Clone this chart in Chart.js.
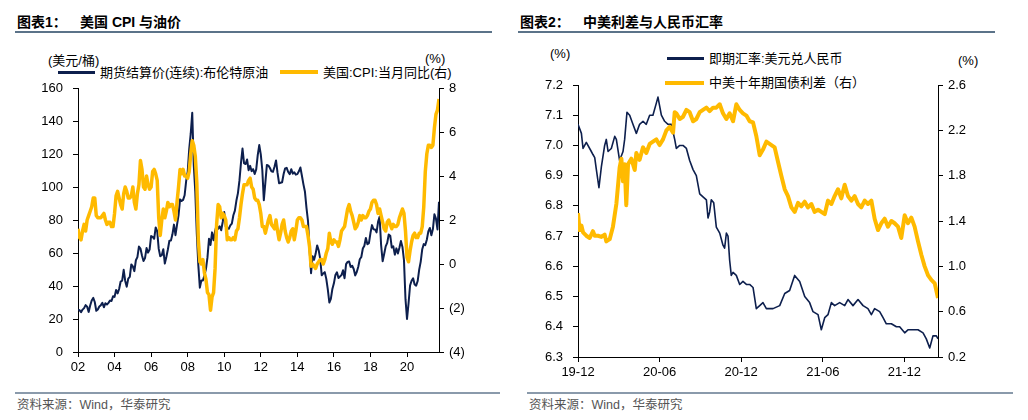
<!DOCTYPE html>
<html><head><meta charset="utf-8">
<script src="https://cdn.jsdelivr.net/npm/chart.js@4.4.1/dist/chart.umd.min.js"></script>
<style>
html,body{margin:0;padding:0;background:#fff;}
body{width:1028px;height:420px;position:relative;overflow:hidden;font-family:"Liberation Sans","Noto Sans CJK SC",sans-serif;}
.abs{position:absolute;white-space:nowrap;line-height:1;}
.title{font-family:"Liberation Sans","Noto Sans CJK SC";font-weight:bold;font-size:14px;color:#000;}
.rule{position:absolute;height:2px;background:#5b7389;}
.src{font-family:"Liberation Sans","Noto Sans CJK SC";font-size:12.5px;color:#555;}
.lg{font-size:13px;color:#000;}
.sw{position:absolute;}
canvas{position:absolute;}
</style></head>
<body>
<div class="abs title" style="left:17px;top:15px;">图表1：</div>
<div class="abs title" style="left:80px;top:15px;">美国 CPI 与油价</div>
<div class="rule" style="left:15px;top:31px;width:477px;"></div>
<div class="abs title" style="left:520px;top:15px;">图表2：</div>
<div class="abs title" style="left:583px;top:15px;">中美利差与人民币汇率</div>
<div class="rule" style="left:518px;top:31px;width:477px;"></div>

<div class="abs lg" style="left:48px;top:54px;">(美元/桶)</div>
<div class="abs lg" style="left:425px;top:52px;">(%)</div>
<div class="sw" style="left:58px;top:71px;width:37px;height:3px;background:#0d1f4d;"></div>
<div class="abs lg" style="left:100px;top:66px;">期货结算价(连续):布伦特原油</div>
<div class="sw" style="left:280px;top:70px;width:38px;height:4px;background:#ffba00;"></div>
<div class="abs lg" style="left:323px;top:66px;">美国:CPI:当月同比(右)</div>

<div class="abs lg" style="left:550px;top:47px;">(%)</div>
<div class="abs lg" style="left:958px;top:54px;">(%)</div>
<div class="sw" style="left:667px;top:57px;width:37px;height:3px;background:#0d1f4d;"></div>
<div class="abs lg" style="left:709px;top:52px;">即期汇率:美元兑人民币</div>
<div class="sw" style="left:665px;top:81px;width:39px;height:4px;background:#ffba00;"></div>
<div class="abs lg" style="left:709px;top:76px;">中美十年期国债利差（右）</div>

<canvas id="c1" width="505" height="390" style="left:0;top:0;width:505px;height:390px;"></canvas>
<canvas id="c2" width="523" height="390" style="left:505px;top:0;width:523px;height:390px;"></canvas>

<div class="rule" style="left:15px;top:392px;width:485px;height:1.5px;background:#8a9aab;"></div>
<div class="abs src" style="left:17px;top:399px;">资料来源：Wind，华泰研究</div>
<div class="rule" style="left:527px;top:392px;width:486px;height:1.5px;background:#8a9aab;"></div>
<div class="abs src" style="left:529px;top:399px;">资料来源：Wind，华泰研究</div>

<script>
// ---------- Chart 1 data: monthly, Apr 2002 .. Jan 2022 ----------
const startYear1 = 2002, startMonth1 = 4;
const brentOil = [
 25.7,25.4,24.1,25.7,26.6,28.4,27.5,24.3,28.2,
 31.2,32.8,30.3,25.0,25.8,27.6,28.4,29.8,27.1,29.6,28.8,29.8,
 31.2,30.9,33.8,33.4,37.6,35.5,38.2,42.7,43.2,49.8,43.1,39.6,
 44.5,45.5,53.1,51.9,49.0,55.6,57.5,63.9,62.7,58.5,55.2,56.9,
 63.0,60.2,62.1,70.3,69.8,68.6,75.5,73.2,62.5,58.0,58.7,62.3,
 53.6,57.6,62.1,67.4,67.5,71.3,77.2,70.8,77.1,82.8,92.5,91.5,
 92.2,95.0,103.6,109.1,122.8,132.3,145.0,113.2,97.2,71.6,52.5,39.0,
 43.4,43.3,46.5,50.3,57.3,68.6,64.9,72.5,67.7,73.2,77.0,74.7,
 76.2,73.8,78.8,84.8,75.9,75.0,74.7,76.7,77.8,82.9,85.7,91.8,
 96.3,104.0,114.6,123.3,114.5,113.9,116.7,110.2,112.8,109.6,110.8,107.9,
 110.7,119.3,125.4,119.8,110.3,92.0,102.6,113.4,113.0,111.5,109.5,109.2,
 112.3,116.1,108.5,102.3,102.6,102.9,107.9,111.3,111.6,109.1,107.8,110.8,
 108.1,108.9,107.5,107.8,109.5,111.8,106.8,101.6,97.1,87.4,79.4,62.3,
 47.8,58.1,55.9,59.5,64.6,61.7,56.6,46.5,47.6,48.4,44.3,38.0,
 30.0,32.2,38.2,41.6,46.7,48.3,44.9,45.8,46.6,49.5,44.7,53.3,
 54.6,54.9,51.6,52.3,50.3,46.4,48.5,51.7,56.2,57.6,62.7,64.4,
 69.1,65.3,66.0,72.1,76.9,74.4,74.3,72.5,78.9,82.0,64.8,55.0,
 59.4,64.0,66.1,71.2,70.5,63.3,64.0,59.0,62.8,59.7,63.2,67.3,
 63.7,55.7,32.0,20.0,29.4,40.3,43.2,44.7,40.9,40.2,43.0,49.9,
 54.8,62.3,65.4,64.8,68.0,73.1,75.2,70.8,74.5,83.5,80.9,74.3,
 91.0
];
const usCpiYoY = [
 1.6,1.2,1.1,1.5,1.8,1.5,2.0,2.2,2.4,
 2.6,3.0,3.0,2.2,2.1,2.1,2.1,2.2,2.3,2.0,1.8,1.9,
 1.9,1.7,1.7,2.3,3.1,3.3,3.0,2.7,2.5,3.2,3.5,3.3,
 3.0,3.0,3.1,3.5,2.8,2.5,3.2,3.6,4.7,4.3,3.5,3.4,
 4.0,3.6,3.4,3.5,4.2,4.3,4.1,3.8,2.1,1.3,2.0,2.5,
 2.1,2.4,2.8,2.6,2.7,2.7,2.4,2.0,2.8,3.5,4.3,4.1,
 4.3,4.0,4.0,3.9,4.2,5.0,5.6,5.4,4.9,3.7,1.1,0.1,
 0.0,0.2,-0.4,-0.7,-1.3,-1.4,-2.1,-1.5,-1.3,-0.2,1.8,2.7,
 2.6,2.1,2.3,2.2,2.0,1.1,1.2,1.1,1.1,1.2,1.1,1.5,
 1.6,2.1,2.7,3.2,3.6,3.6,3.6,3.8,3.9,3.5,3.4,3.0,
 2.9,2.9,2.7,2.3,1.7,1.7,1.4,1.7,2.0,2.2,1.8,1.7,
 1.6,2.0,1.5,1.1,1.4,1.8,2.0,1.5,1.2,1.0,1.2,1.5,
 1.6,1.1,1.5,2.0,2.1,2.1,2.0,1.7,1.7,1.7,1.3,0.8,
 -0.1,0.0,-0.1,-0.2,0.0,0.1,0.2,0.2,0.0,0.2,0.5,0.7,
 1.4,1.0,0.9,1.1,1.0,1.0,0.8,1.1,1.5,1.6,1.7,2.1,
 2.5,2.7,2.4,2.2,1.9,1.6,1.7,1.9,2.2,2.0,2.2,2.1,
 2.1,2.2,2.4,2.5,2.8,2.9,2.9,2.7,2.3,2.5,2.2,1.9,
 1.6,1.5,1.9,2.0,1.8,1.6,1.8,1.7,1.7,1.8,2.1,2.3,
 2.5,2.3,1.5,0.3,0.1,0.6,1.0,1.3,1.4,1.2,1.2,1.4,
 1.4,1.7,2.6,4.2,5.0,5.4,5.4,5.3,5.4,6.2,6.8,7.0,
 7.5
];
const chart1XTickLabels = ['02','04','06','08','10','12','14','16','18','20'];
const chart1LeftTicks = [0,20,40,60,80,100,120,140,160];
const chart1RightTicks = [-4,-2,0,2,4,6,8];

// ---------- Chart 2 data: months since Dec 2019 ----------
const fxMonths = [0.00,0.25,0.37,0.61,0.98,1.10,1.23,1.35,1.54,1.72,
 1.96,2.08,2.21,2.45,2.70,2.82,3.06,3.31,3.43,3.60,
 3.80,4.04,4.29,4.53,4.78,5.02,5.27,5.51,5.76,5.88,
 6.13,6.37,6.62,6.86,7.11,7.23,7.48,7.72,7.97,8.21,
 8.46,8.70,8.95,9.19,9.44,9.56,9.68,9.80,9.98,10.17,
 10.42,10.66,10.78,10.91,11.03,11.15,11.27,11.40,11.64,11.89,
 12.13,12.38,12.62,12.87,13.11,13.36,13.60,13.85,14.34,14.83,
 15.20,15.56,15.93,16.30,16.67,17.03,17.28,17.65,17.89,18.14,
 18.38,18.63,18.87,19.24,19.61,19.85,20.22,20.59,20.96,21.32,
 21.57,21.81,22.18,22.43,22.67,23.04,23.41,23.65,24.02,24.26,
 24.63,25.00,25.37,25.61,25.86,26.10,26.35,26.47];
const usdCny = [7.07,7.04,6.99,7.01,6.98,6.97,6.96,6.92,6.86,6.93,
 7.00,7.02,6.98,6.99,7.03,7.02,6.95,6.98,7.02,7.11,
 7.10,7.07,7.04,7.07,7.08,7.07,7.10,7.10,7.14,7.16,
 7.10,7.08,7.07,7.07,7.02,6.99,7.00,7.00,6.99,6.95,
 6.92,6.90,6.84,6.83,6.82,6.76,6.78,6.82,6.81,6.73,
 6.71,6.67,6.66,6.71,6.70,6.62,6.57,6.58,6.57,6.54,
 6.55,6.54,6.54,6.53,6.46,6.47,6.48,6.46,6.46,6.47,
 6.51,6.52,6.57,6.55,6.50,6.48,6.45,6.44,6.39,6.43,
 6.44,6.48,6.47,6.48,6.47,6.49,6.47,6.49,6.47,6.46,
 6.44,6.46,6.45,6.43,6.41,6.41,6.40,6.40,6.38,6.39,
 6.39,6.39,6.38,6.36,6.33,6.37,6.37,6.36];
const spreadMonths = [0,0.12,0.25,0.37,0.61,0.86,1.10,1.23,1.47,1.72,
 1.96,2.08,2.33,2.57,2.82,3.06,3.19,3.31,3.43,3.55,
 3.68,3.92,4.17,4.29,4.53,4.78,5.02,5.27,5.51,5.76,
 6.00,6.25,6.50,6.74,6.99,7.11,7.23,7.48,7.72,7.97,
 8.21,8.46,8.70,8.95,9.19,9.44,9.68,9.93,10.17,10.42,
 10.66,10.91,11.15,11.40,11.64,11.89,12.13,12.38,12.62,12.87,
 13.11,13.36,13.60,13.85,14.09,14.46,14.71,14.95,15.20,15.44,
 15.69,15.93,16.18,16.42,16.67,16.91,17.16,17.40,17.65,17.89,
 18.14,18.38,18.63,18.87,19.12,19.36,19.61,19.85,20.10,20.34,
 20.59,20.83,21.08,21.32,21.57,21.81,22.06,22.30,22.55,22.79,
 23.04,23.28,23.53,23.77,24.02,24.26,24.51,24.75,25.00,25.25,
 25.49,25.74,25.98,26.23,26.47];
const cnUsSpread = [1.47,1.32,1.36,1.30,1.27,1.25,1.31,1.27,1.27,1.26,
 1.28,1.22,1.24,1.35,1.55,1.87,1.95,1.75,1.90,1.54,
 1.90,1.95,1.85,2.00,1.94,2.05,2.00,2.08,2.10,2.12,
 2.07,2.12,2.20,2.23,2.18,2.36,2.35,2.30,2.32,2.38,
 2.36,2.28,2.30,2.36,2.38,2.40,2.37,2.40,2.40,2.43,
 2.35,2.30,2.35,2.28,2.43,2.38,2.35,2.33,2.28,2.27,
 2.15,1.98,2.03,2.10,2.08,2.05,1.92,1.80,1.68,1.62,
 1.52,1.48,1.56,1.53,1.57,1.52,1.55,1.48,1.50,1.48,
 1.46,1.58,1.55,1.62,1.68,1.60,1.72,1.62,1.58,1.62,
 1.55,1.52,1.58,1.55,1.58,1.42,1.32,1.38,1.42,1.35,
 1.40,1.38,1.35,1.25,1.45,1.38,1.43,1.35,1.22,1.10,
 1.00,0.92,0.88,0.85,0.72];
const chart2XTickLabels = ['19-12','20-06','20-12','21-06','21-12'];
const chart2XTickMonths = [0,6,12,18,24];
const chart2LeftTicks = [6.3,6.4,6.5,6.6,6.7,6.8,6.9,7.0,7.1,7.2];
const chart2RightTicks = [0.2,0.6,1.0,1.4,1.8,2.2,2.6];

const NAVY = '#0d1f4d', GOLD = '#ffba00';
const FONT = {family:'Liberation Sans', size:13};

function axis(extra){
  return Object.assign({
    grid:{display:true, drawOnChartArea:false, drawTicks:true, tickLength:5, color:'#000', lineWidth:1},
    border:{display:true, color:'#000', width:1},
    ticks:{color:'#000', font:FONT, autoSkip:false, maxRotation:0, minRotation:0}
  }, extra);
}
function setTicks(vals){ return function(s){ s.ticks = vals.map(v=>({value:v})); }; }

// ---- Chart 1 ----
const x1 = brentOil.map((_,i)=> startYear1 + (startMonth1-1)/12 + i/12);
const x1Start = x1[0], x1End = x1[x1.length-1];
const x1TickVals = chart1XTickLabels.map((_,k)=> x1Start + 2*k);
const W1 = 505, H1 = 390;
new Chart(document.getElementById('c1'), {
  type:'line',
  data:{datasets:[
    {label:'美国:CPI:当月同比(右)', data:usCpiYoY.map((v,i)=>({x:x1[i],y:v})), yAxisID:'y1',
     borderColor:GOLD, borderWidth:3.5, pointRadius:0, tension:0, borderJoinStyle:'round', order:0},
    {label:'期货结算价(连续):布伦特原油', data:brentOil.map((v,i)=>({x:x1[i],y:v})), yAxisID:'y',
     borderColor:NAVY, borderWidth:2, pointRadius:0, tension:0, borderJoinStyle:'round', order:1}
  ]},
  options:{
    responsive:false, animation:false, devicePixelRatio:1,
    layout:{padding:{top:88,left:0,right:0,bottom:0}},
    plugins:{legend:{display:false}, tooltip:{enabled:false}},
    scales:{
      x:axis({type:'linear', min:x1Start, max:x1End,
        afterBuildTicks:setTicks(x1TickVals),
        afterFit:s=>{s.height = H1-352;},
        ticks:{color:'#000', font:FONT, autoSkip:false, maxRotation:0, padding:3,
          callback:(v)=>{const k = x1TickVals.findIndex(t=>Math.abs(t-v)<1e-6); return k>=0?chart1XTickLabels[k]:'';}}}),
      y:axis({type:'linear', position:'left', min:0, max:160,
        afterBuildTicks:setTicks(chart1LeftTicks),
        afterFit:s=>{s.width = 78;},
        ticks:{color:'#000', font:FONT, padding:10}}),
      y1:axis({type:'linear', position:'right', min:-4, max:8,
        afterBuildTicks:setTicks(chart1RightTicks),
        afterFit:s=>{s.width = W1-439;},
        ticks:{color:'#000', font:FONT, padding:5, callback:v=> v<0 ? '('+Math.abs(v)+')' : String(v)}})
    }
  }
});

// ---- Chart 2 ----
const W2 = 523, H2 = 390, L2 = 505;
new Chart(document.getElementById('c2'), {
  type:'line',
  data:{datasets:[
    {label:'中美十年期国债利差（右）', data:cnUsSpread.map((v,i)=>({x:spreadMonths[i],y:v})), yAxisID:'y1',
     borderColor:GOLD, borderWidth:4, pointRadius:0, tension:0, borderJoinStyle:'round', order:0},
    {label:'即期汇率:美元兑人民币', data:usdCny.map((v,i)=>({x:fxMonths[i],y:v})), yAxisID:'y',
     borderColor:NAVY, borderWidth:1.6, pointRadius:0, tension:0, borderJoinStyle:'round', order:1}
  ]},
  options:{
    responsive:false, animation:false, devicePixelRatio:1,
    layout:{padding:{top:85,left:0,right:0,bottom:0}},
    plugins:{legend:{display:false}, tooltip:{enabled:false}},
    scales:{
      x:axis({type:'linear', min:0, max:spreadMonths[spreadMonths.length-1],
        afterBuildTicks:setTicks(chart2XTickMonths),
        afterFit:s=>{s.height = H2-357;},
        ticks:{color:'#000', font:FONT, autoSkip:false, maxRotation:0, padding:3,
          callback:(v)=>{const k = chart2XTickMonths.indexOf(v); return k>=0?chart2XTickLabels[k]:'';}}}),
      y:axis({type:'linear', position:'left', min:6.3, max:7.2,
        afterBuildTicks:setTicks(chart2LeftTicks),
        afterFit:s=>{s.width = 578-L2;},
        ticks:{color:'#000', font:FONT, padding:10, callback:v=>Number(v).toFixed(1)}}),
      y1:axis({type:'linear', position:'right', min:0.2, max:2.6,
        afterBuildTicks:setTicks(chart2RightTicks),
        afterFit:s=>{s.width = W2-(938-L2);},
        ticks:{color:'#000', font:FONT, padding:5, callback:v=>Number(v).toFixed(1)}})
    }
  }
});
</script>
</body></html>
